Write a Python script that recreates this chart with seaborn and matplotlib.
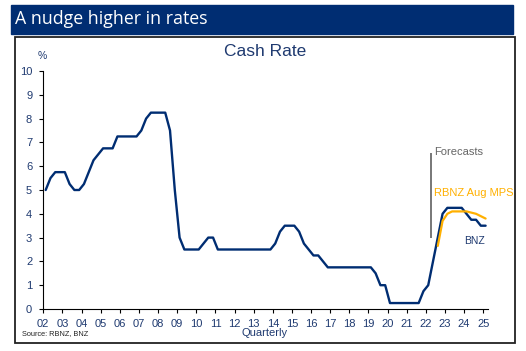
import numpy as np
import pandas as pd
import matplotlib
matplotlib.use('Agg')
import matplotlib.pyplot as plt
import seaborn as sns
from matplotlib.patches import Rectangle

# --- Data (quarterly) ---
BNZ_START = '2002Q1'
BNZ_RATE = [
    5.0, 5.5, 5.75, 5.75,      # 2002
    5.75, 5.25, 5.0, 5.0,      # 2003
    5.25, 5.75, 6.25, 6.5,     # 2004
    6.75, 6.75, 6.75, 7.25,    # 2005
    7.25, 7.25, 7.25, 7.25,    # 2006
    7.5, 8.0, 8.25, 8.25,      # 2007
    8.25, 8.25, 7.5, 5.0,      # 2008
    3.0, 2.5, 2.5, 2.5,        # 2009
    2.5, 2.75, 3.0, 3.0,       # 2010
    2.5, 2.5, 2.5, 2.5,        # 2011
    2.5, 2.5, 2.5, 2.5,        # 2012
    2.5, 2.5, 2.5, 2.5,        # 2013
    2.75, 3.25, 3.5, 3.5,      # 2014
    3.5, 3.25, 2.75, 2.5,      # 2015
    2.25, 2.25, 2.0, 1.75,     # 2016
    1.75, 1.75, 1.75, 1.75,    # 2017
    1.75, 1.75, 1.75, 1.75,    # 2018
    1.75, 1.5, 1.0, 1.0,       # 2019
    0.25, 0.25, 0.25, 0.25,    # 2020
    0.25, 0.25, 0.25, 0.75,    # 2021
    1.0, 2.0, 3.0, 4.0,        # 2022
    4.25, 4.25, 4.25, 4.25,    # 2023
    4.0, 3.75, 3.75, 3.5,      # 2024
    3.5,                       # 2025
]
RBNZ_START = '2022Q3'
RBNZ_MPS = [2.65, 3.7, 4.0, 4.1, 4.1, 4.1, 4.1, 4.05, 4.0, 3.9, 3.8]

YEARS = list(range(2002, 2026))
YEAR_LABELS = [f"{y % 100:02d}" for y in YEARS]
Y_TICKS = list(range(0, 11))

NAVY = "#002D72"
TEXT_BLUE = "#1F3A70"
ORANGE = "#FFB000"
GREY = "#777777"


def to_frame(start, values, name):
    q = pd.period_range(start, periods=len(values), freq='Q')
    return pd.DataFrame({'x': q.year + (q.quarter - 1) / 4 + 0.125,
                         'rate': values, 'series': name})


bnz = to_frame(BNZ_START, BNZ_RATE, 'BNZ')
rbnz = to_frame(RBNZ_START, RBNZ_MPS, 'RBNZ Aug MPS')

sns.set_style('ticks')
plt.rcParams['font.family'] = ['Liberation Sans', 'DejaVu Sans']

fig = plt.figure(figsize=(5.26, 3.51), dpi=100)

# banner + frame
fig.patches.append(Rectangle((11 / 526, 1 - 34 / 351), 502 / 526, 29 / 351,
                             transform=fig.transFigure, color=NAVY, zorder=0))
fig.text(15 / 526, 1 - 19.5 / 351, "A nudge higher in rates", color='white',
         fontsize=12.8, family=['Open Sans', 'DejaVu Sans'], va='center', ha='left')
fig.patches.append(Rectangle((15 / 526, 1 - 343 / 351), 500 / 526, 306 / 351,
                             transform=fig.transFigure, fill=False,
                             edgecolor='#222222', lw=1.3, zorder=0))

ax = fig.add_axes([43.3 / 526, 1 - 309 / 351, (488 - 43.3) / 526, (309 - 71) / 351])
sns.lineplot(data=bnz, x='x', y='rate', color=NAVY, lw=1.7, ax=ax)
sns.lineplot(data=rbnz, x='x', y='rate', color=ORANGE, lw=1.6, ax=ax)

ax.set_xlim(2002, 2025.25)
ax.set_ylim(0, 10)
ax.set_xticks(YEARS)
ax.set_xticklabels(YEAR_LABELS)
ax.set_yticks(Y_TICKS)
ax.set_xlabel('')
ax.set_ylabel('')
ax.tick_params(axis='both', length=3, width=0.8, color='black',
               labelcolor=TEXT_BLUE, labelsize=8)
ax.tick_params(axis='y', pad=5)
ax.tick_params(axis='x', pad=4)
sns.despine(ax=ax)
for s in ['left', 'bottom']:
    ax.spines[s].set_color('black')
    ax.spines[s].set_linewidth(0.8)

# forecast marker and labels
ax.vlines(2022.27, 2.98, 6.55, color=GREY, lw=1.4)
ax.text(2022.42, 6.6, "Forecasts", color='#666666', fontsize=8, va='center', ha='left')
ax.text(2022.42, 4.89, "RBNZ Aug MPS", color=ORANGE, fontsize=8, va='center', ha='left')
ax.text(2024.57, 2.87, "BNZ", color=TEXT_BLUE, fontsize=7.5, va='center', ha='center')

fig.text(265 / 526, 1 - 52 / 351, "Cash Rate", color=TEXT_BLUE, fontsize=12.5,
         ha='center', va='center')
fig.text(42 / 526, 1 - 56 / 351, "%", color=TEXT_BLUE, fontsize=7.5,
         ha='center', va='center')
fig.text(265 / 526, 1 - 333 / 351, "Quarterly", color=TEXT_BLUE, fontsize=8,
         ha='center', va='center')
fig.text(22 / 526, 1 - 334 / 351, "Source: RBNZ, BNZ", color='#222222', fontsize=5.3,
         ha='left', va='center')

fig.savefig('out.png', dpi=100)
